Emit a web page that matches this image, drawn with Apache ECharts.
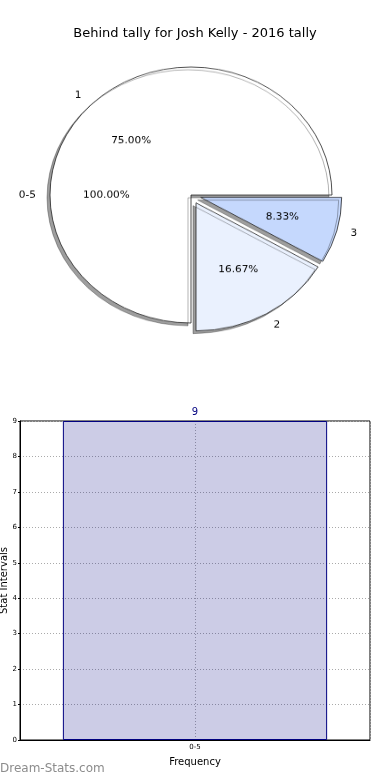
<!DOCTYPE html>
<html><head><meta charset="utf-8">
<script src="https://cdn.jsdelivr.net/npm/echarts@6/dist/echarts.min.js"></script>
<style>
html,body{margin:0;padding:0;background:#fff;}
#main{position:absolute;left:0;top:0;width:390px;height:780px;}
#pie{position:absolute;left:0;top:0;width:390px;height:390px;transform-origin:191px 195px;transform:scaleY(0.9078);}
</style></head><body>
<div id="main"></div><div id="pie"></div>
<script>
const titleText = 'Behind tally for Josh Kelly - 2016 tally';
const pieNames = ['1', '2', '3'];
const pieValues = [9, 2, 1];
const pieExploded = [false, true, true];
const pieColors = ['#ffffff', '#eaf1fe', '#c5d8fd'];
const outerNames = ['0-5'];
const outerValues = [9];
const barCategories = ['0-5'];
const barValues = [9];
const yMin = 0, yMax = 9, yStep = 1;
const watermark = 'Dream-Stats.com';

const FONT = 'DejaVu Sans';
const pctFmt = p => p.percent.toFixed(2) + '%';
const CX = 191, CY = 195, R = 141;

const main = echarts.init(document.getElementById('main'), null, {renderer: 'canvas'});
main.setOption({
  animation: false,
  backgroundColor: '#fff',
  textStyle: {fontFamily: FONT},
  title: {text: titleText, left: 'center', top: 22, textStyle: {fontSize: 13, fontWeight: 'normal', color: '#000', fontFamily: FONT}},
  grid: {left: 20, right: 20, top: 421, bottom: 40, outerBoundsMode: 'none', containLabel: false, show: true, borderColor: '#000', borderWidth: 1, backgroundColor: 'transparent'},
  xAxis: [{
    type: 'category', data: barCategories,
    axisLine: {lineStyle: {color: '#000'}}, axisTick: {show: false},
    axisLabel: {fontSize: 7, margin: 4, color: '#000'},
    splitLine: {show: false},
    name: 'Frequency', nameLocation: 'middle', nameGap: 17, nameMoveOverlap: false,
    nameTextStyle: {fontSize: 10, color: '#000'}
  }, {
    type: 'value', min: -1, max: 1, interval: 1, position: 'top',
    axisLine: {show: false}, axisTick: {show: false}, axisLabel: {show: false},
    splitLine: {show: true, lineStyle: {color: '#aaa', type: [1, 2], width: 1}}
  }],
  yAxis: {
    type: 'value', min: yMin, max: yMax, interval: yStep, position: 'left',
    axisLine: {show: true, onZero: false, lineStyle: {color: '#000'}},
    axisTick: {show: true, length: 2, lineStyle: {color: '#000'}},
    axisLabel: {fontSize: 7, margin: 3, color: '#000'},
    splitLine: {show: true, lineStyle: {color: '#aaa', type: [1, 2], width: 1}},
    name: 'Stat Intervals', nameLocation: 'middle', nameGap: 11, nameMoveOverlap: false,
    nameTextStyle: {fontSize: 10, color: '#000'}
  },
  series: [{
    type: 'bar', xAxisIndex: 0, data: barValues, barWidth: '75.5%',
    itemStyle: {color: 'rgba(0,0,128,0.2)', borderColor: '#000080', borderWidth: 1},
    label: {show: true, position: 'top', color: '#000080', fontSize: 10, distance: 4}
  }],
  graphic: [{
    type: 'text', left: 0, top: 763,
    style: {text: watermark, fontSize: 12, fontFamily: FONT, fill: '#8c8c8c'}
  }]
});

const pie = echarts.init(document.getElementById('pie'), null, {renderer: 'canvas'});
const common = {
  type: 'pie', center: [CX, CY], startAngle: 0, clockwise: false,
  selectedMode: 'multiple', selectedOffset: 10, avoidLabelOverlap: false,
  animation: false, silent: true, emphasis: {disabled: true}
};
const labelBase = {fontSize: 10.5, color: '#000', fontFamily: FONT};
const transparentItem = {color: 'rgba(0,0,0,0)', borderWidth: 0};
pie.setOption({
  animation: false,
  series: [
    Object.assign({}, common, {
      radius: R,
      itemStyle: {borderColor: '#222', borderWidth: 0.8, shadowColor: 'rgba(0,0,0,0.38)', shadowOffsetX: -3, shadowOffsetY: 3, shadowBlur: 0.5},
      label: Object.assign({show: true, position: 'outside', formatter: '{b}', distanceToLabelLine: 0}, labelBase),
      labelLine: {show: false, length: R * 0.1, length2: 0},
      data: pieNames.map((n, i) => ({name: n, value: pieValues[i], selected: pieExploded[i], itemStyle: {color: pieColors[i]}}))
    }),
    Object.assign({}, common, {
      radius: R * 1.2 - 6, z: 5,
      itemStyle: transparentItem,
      label: Object.assign({show: true, position: 'inside', formatter: pctFmt}, labelBase),
      labelLine: {show: false},
      data: pieNames.map((n, i) => ({name: n, value: pieValues[i], selected: pieExploded[i]}))
    }),
    Object.assign({}, common, {
      radius: R, z: 5,
      itemStyle: transparentItem,
      label: Object.assign({show: true, position: 'outside', formatter: '{b}', distanceToLabelLine: 0}, labelBase),
      labelLine: {show: false, length: R * 0.1, length2: 0},
      data: outerNames.map((n, i) => ({name: n, value: outerValues[i]}))
    }),
    Object.assign({}, common, {
      radius: R * 1.2 - 6, z: 5,
      itemStyle: transparentItem,
      label: Object.assign({show: true, position: 'inside', formatter: pctFmt}, labelBase),
      labelLine: {show: false},
      data: outerNames.map((n, i) => ({name: n, value: outerValues[i]}))
    })
  ]
});
</script>
</body></html>
